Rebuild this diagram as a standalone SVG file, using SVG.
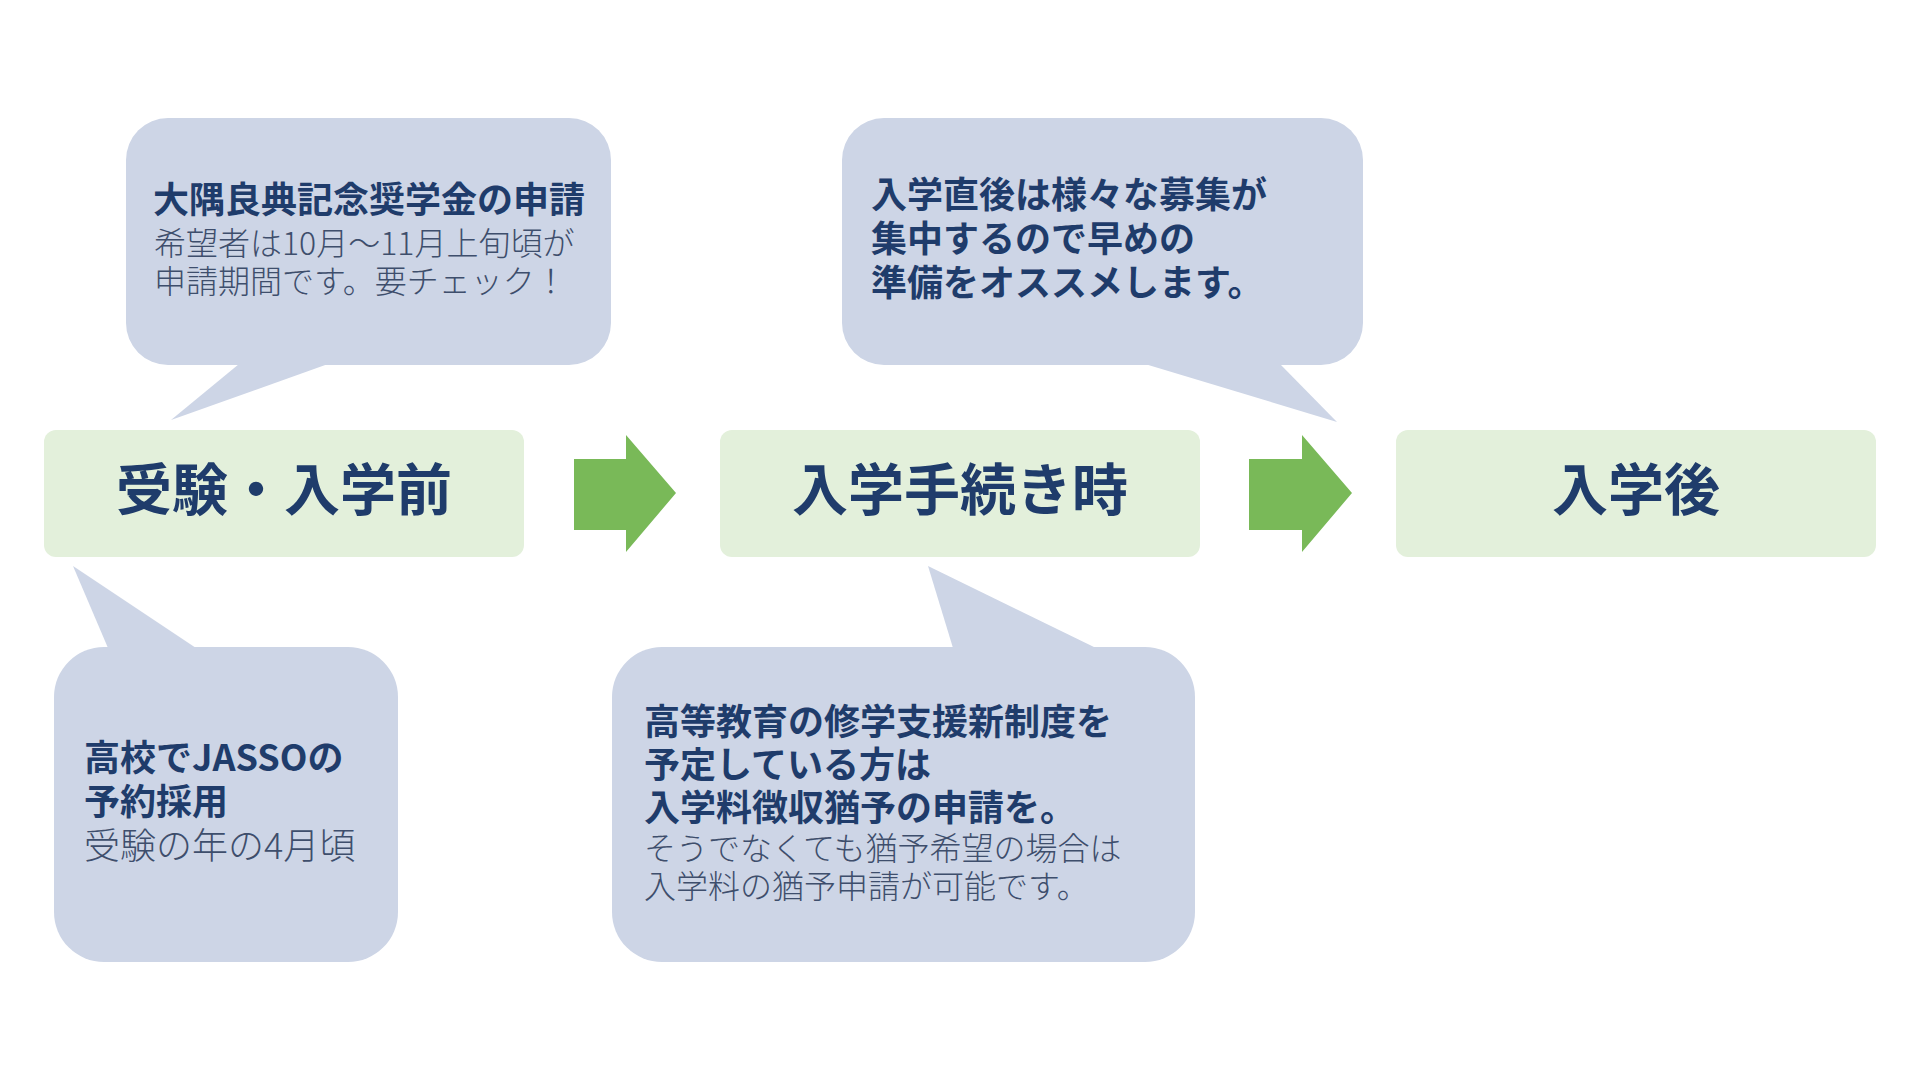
<svg xmlns="http://www.w3.org/2000/svg" width="1920" height="1080" viewBox="0 0 1920 1080">
<style>
.bubble{fill:#CDD5E6}
.stage{fill:#E3F0DB}
.arrow{fill:#79B958}
text{font-family:"Noto Sans CJK JP","Noto Sans",sans-serif}
.label{font-size:56px;font-weight:700;fill:#1F3C6B;text-anchor:middle}
.b{font-size:36px;font-weight:700;fill:#1F3C6B}
.r{font-size:32px;font-weight:300;fill:#3E4E6C}
.r36{font-size:36px;font-weight:300;fill:#3E4E6C}
</style>
<rect width="1920" height="1080" fill="#FFFFFF"/>
<g id="callout-top-left">
<rect class="bubble" x="126" y="118" width="485" height="247" rx="42"/>
<polygon class="bubble" points="239,364 328,364 171,420"/>
<text x="153" y="213"><tspan class="b">大隅良典記念奨学金の申請</tspan><tspan class="r" x="154" dy="42">希望者は10月～11月上旬頃が</tspan><tspan class="r" x="154" dy="38">申請期間です。要チェック！</tspan></text>
</g>
<g id="callout-top-right">
<rect class="bubble" x="842" y="118" width="521" height="247" rx="42"/>
<polygon class="bubble" points="1145,364 1280,364 1337,422"/>
<text class="b" x="871" y="208">入学直後は様々な募集が<tspan x="871" dy="44">集中するので早めの</tspan><tspan x="871" dy="44">準備をオススメします。</tspan></text>
</g>
<g id="callout-bottom-left">
<rect class="bubble" x="54" y="647" width="344" height="315" rx="50"/>
<polygon class="bubble" points="108,648 196,648 73,566"/>
<text x="84" y="771"><tspan class="b">高校でJASSOの</tspan><tspan class="b" x="84" dy="44">予約採用</tspan><tspan class="r36" x="84" dy="44">受験の年の4月頃</tspan></text>
</g>
<g id="callout-bottom-middle">
<rect class="bubble" x="612" y="647" width="583" height="315" rx="50"/>
<polygon class="bubble" points="953,648 1096,648 928,566"/>
<text x="644" y="735"><tspan class="b">高等教育の修学支援新制度を</tspan><tspan class="b" x="644" dy="43">予定している方は</tspan><tspan class="b" x="644" dy="43">入学料徴収猶予の申請を。</tspan><tspan class="r" x="644" dy="39">そうでなくても猶予希望の場合は</tspan><tspan class="r" x="644" dy="38">入学料の猶予申請が可能です。</tspan></text>
</g>
<g id="connectors">
<polygon class="arrow" points="574,459 626,459 626,435 676,493 626,552 626,530 574,530"/>
<polygon class="arrow" points="1249,459 1302,459 1302,435 1352,493 1302,552 1302,530 1249,530"/>
</g>
<g id="stage-before">
<rect class="stage" x="44" y="430" width="480" height="127" rx="12"/>
<text class="label" x="284" y="510">受験・入学前</text>
</g>
<g id="stage-procedure">
<rect class="stage" x="720" y="430" width="480" height="127" rx="12"/>
<text class="label" x="960" y="510">入学手続き時</text>
</g>
<g id="stage-after">
<rect class="stage" x="1396" y="430" width="480" height="127" rx="12"/>
<text class="label" x="1636" y="510">入学後</text>
</g>
</svg>
